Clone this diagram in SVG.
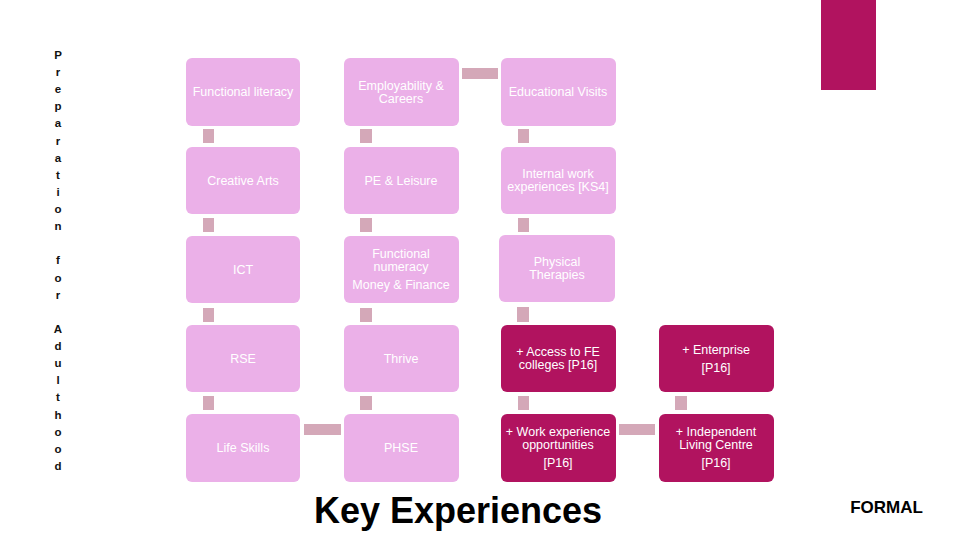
<svg xmlns="http://www.w3.org/2000/svg" width="960" height="540" viewBox="0 0 960 540">
<style>
.lb{fill:#EBB0E8}
.mg{fill:#B1135F}
.cn{fill:#D4A8B8}
.t{font-family:"Liberation Sans",Arial,sans-serif;font-size:12.5px;fill:#FFFFFF;text-anchor:middle}
.side{font-family:"Liberation Sans",Arial,sans-serif;font-size:11.5px;font-weight:bold;fill:#111111;text-anchor:middle}
</style>
<rect width="960" height="540" fill="#FFFFFF"/>
<rect x="821" y="0" width="55" height="90" class="mg"/>
<text class="side" x="58" y="59"><tspan x="58" dy="0">P</tspan><tspan x="58" dy="17.12">r</tspan><tspan x="58" dy="17.12">e</tspan><tspan x="58" dy="17.12">p</tspan><tspan x="58" dy="17.12">a</tspan><tspan x="58" dy="17.12">r</tspan><tspan x="58" dy="17.12">a</tspan><tspan x="58" dy="17.12">t</tspan><tspan x="58" dy="17.12">i</tspan><tspan x="58" dy="17.12">o</tspan><tspan x="58" dy="17.12">n</tspan><tspan x="58" dy="34.24">f</tspan><tspan x="58" dy="17.12">o</tspan><tspan x="58" dy="17.12">r</tspan><tspan x="58" dy="34.24">A</tspan><tspan x="58" dy="17.12">d</tspan><tspan x="58" dy="17.12">u</tspan><tspan x="58" dy="17.12">l</tspan><tspan x="58" dy="17.12">t</tspan><tspan x="58" dy="17.12">h</tspan><tspan x="58" dy="17.12">o</tspan><tspan x="58" dy="17.12">o</tspan><tspan x="58" dy="17.12">d</tspan></text>
<g id="connectors">
<rect class="cn" x="462" y="68" width="36" height="11"/>
<rect class="cn" x="203" y="129" width="11" height="14"/>
<rect class="cn" x="360" y="129" width="12" height="14"/>
<rect class="cn" x="518" y="129" width="11" height="14"/>
<rect class="cn" x="203" y="218" width="11" height="14"/>
<rect class="cn" x="360" y="218" width="12" height="14"/>
<rect class="cn" x="518" y="218" width="11" height="14"/>
<rect class="cn" x="203" y="308" width="11" height="14"/>
<rect class="cn" x="360" y="308" width="12" height="14"/>
<rect class="cn" x="517" y="307" width="12" height="15"/>
<rect class="cn" x="203" y="396" width="11" height="14"/>
<rect class="cn" x="360" y="396" width="12" height="14"/>
<rect class="cn" x="518" y="396" width="11" height="14"/>
<rect class="cn" x="675" y="396" width="12" height="14"/>
<rect class="cn" x="304" y="424" width="37" height="11"/>
<rect class="cn" x="619" y="424" width="36" height="11"/>
</g>
<g id="n-functional-literacy"><rect class="lb" x="186" y="58" width="114" height="68" rx="6"/><text class="t" x="243" y="96">Functional literacy</text></g>
<g id="n-employability"><rect class="lb" x="344" y="58" width="115" height="68" rx="6"/><text class="t" x="401" y="90">Employability &amp;</text><text class="t" x="401" y="103">Careers</text></g>
<g id="n-educational-visits"><rect class="lb" x="501" y="58" width="115" height="68" rx="6"/><text class="t" x="558" y="96">Educational Visits</text></g>
<g id="n-creative-arts"><rect class="lb" x="186" y="147" width="114" height="67" rx="6"/><text class="t" x="243" y="185">Creative Arts</text></g>
<g id="n-pe-leisure"><rect class="lb" x="344" y="147" width="115" height="67" rx="6"/><text class="t" x="401" y="185">PE &amp; Leisure</text></g>
<g id="n-internal-work"><rect class="lb" x="501" y="147" width="115" height="67" rx="6"/><text class="t" x="558" y="178">Internal work</text><text class="t" x="558" y="191">experiences [KS4]</text></g>
<g id="n-ict"><rect class="lb" x="186" y="236" width="114" height="67" rx="6"/><text class="t" x="243" y="274">ICT</text></g>
<g id="n-functional-numeracy"><rect class="lb" x="344" y="236" width="115" height="67" rx="6"/><text class="t" x="401" y="258">Functional</text><text class="t" x="401" y="271">numeracy</text><text class="t" x="401" y="289">Money &amp; Finance</text></g>
<g id="n-physical-therapies"><rect class="lb" x="499" y="235" width="116" height="67" rx="6"/><text class="t" x="557" y="266">Physical</text><text class="t" x="557" y="279">Therapies</text></g>
<g id="n-rse"><rect class="lb" x="186" y="325" width="114" height="67" rx="6"/><text class="t" x="243" y="363">RSE</text></g>
<g id="n-thrive"><rect class="lb" x="344" y="325" width="115" height="67" rx="6"/><text class="t" x="401" y="363">Thrive</text></g>
<g id="n-access-fe"><rect class="mg" x="501" y="325" width="115" height="67" rx="6"/><text class="t" x="558" y="356">+ Access to FE</text><text class="t" x="558" y="369">colleges [P16]</text></g>
<g id="n-enterprise"><rect class="mg" x="659" y="325" width="115" height="67" rx="6"/><text class="t" x="716" y="354">+ Enterprise</text><text class="t" x="716" y="372">[P16]</text></g>
<g id="n-life-skills"><rect class="lb" x="186" y="414" width="114" height="68" rx="6"/><text class="t" x="243" y="452">Life Skills</text></g>
<g id="n-phse"><rect class="lb" x="344" y="414" width="115" height="68" rx="6"/><text class="t" x="401" y="452">PHSE</text></g>
<g id="n-work-experience"><rect class="mg" x="501" y="414" width="115" height="68" rx="6"/><text class="t" x="558" y="436">+ Work experience</text><text class="t" x="558" y="449">opportunities</text><text class="t" x="558" y="467">[P16]</text></g>
<g id="n-independent-living"><rect class="mg" x="659" y="414" width="115" height="68" rx="6"/><text class="t" x="716" y="436">+ Independent</text><text class="t" x="716" y="449">Living Centre</text><text class="t" x="716" y="467">[P16]</text></g>
<text x="458" y="523" font-family="'Liberation Sans',Arial,sans-serif" font-size="36" font-weight="bold" fill="#000000" text-anchor="middle">Key Experiences</text>
<text x="886.5" y="513" font-family="'Liberation Sans',Arial,sans-serif" font-size="17" font-weight="bold" fill="#000000" text-anchor="middle">FORMAL</text>
</svg>
